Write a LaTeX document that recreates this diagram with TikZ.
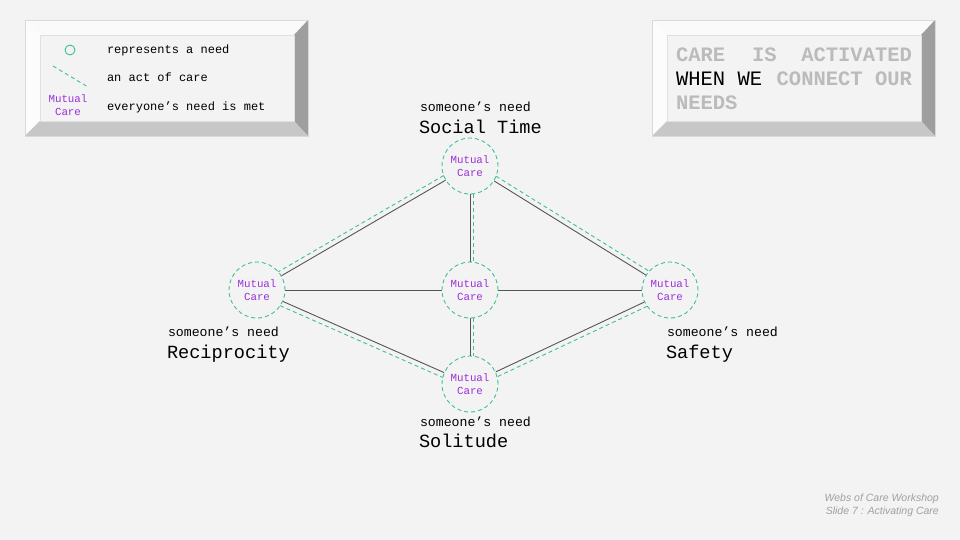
\documentclass[tikz,border=0pt]{standalone}
\usepackage{fontspec}
\setmainfont{Liberation Mono}
\newfontfamily\footfont{Liberation Sans}
\usetikzlibrary{calc}
\definecolor{bg}{HTML}{F3F3F3}
\definecolor{teal2}{HTML}{3DBF9E}
\definecolor{purp}{HTML}{9B30D9}
\definecolor{edge}{HTML}{555555}
\definecolor{graytxt}{HTML}{BBBBBB}
\definecolor{foot}{HTML}{A0A0A0}
\newcommand\careline[5]{\draw[actline, shorten <=#5, shorten >=#5] ($(#1)!#4!#3:(#2)$) -- ($(#2)!#4!{#3+180}:(#1)$);}
\tikzset{
  need/.style={circle, draw=teal2, dash pattern=on 4pt off 3pt, line width=0.9pt, minimum size=56pt, inner sep=0pt, align=center, text=purp, font=\fontsize{10.8}{13}\selectfont},
  link/.style={draw=edge, line width=0.9pt},
  actline/.style={draw=teal2, line width=0.9pt, dash pattern=on 4pt off 3pt},
  txt/.style={anchor=base west, inner sep=0pt, outer sep=0pt},
  small/.style={txt, font=\fontsize{13.2}{15}\selectfont},
  big/.style={txt, font=\fontsize{18.6}{21}\selectfont},
  leg/.style={txt, font=\fontsize{12}{14}\selectfont},
  head/.style={txt, font=\fontsize{20.5}{24}\selectfont\bfseries, text=graytxt},
  bevtop/.style={fill=white!60!bg},
  bevleft/.style={fill=white!75!bg},
  bevright/.style={fill=black!38},
  bevbot/.style={fill=black!22},
}
\begin{document}
\begin{tikzpicture}[x=1pt,y=-1pt]
\useasboundingbox[fill=bg] (0,0) rectangle (960,540);

% ---- legend bevel box
\fill[bevtop] (25,20) -- (308,20) -- (294,35) -- (40,35) -- cycle;
\fill[bevleft] (25,20) -- (40,35) -- (40,121) -- (25,136) -- cycle;
\fill[bevright] (308,20) -- (308,136) -- (294,121) -- (294,35) -- cycle;
\fill[bevbot] (25,136) -- (40,121) -- (294,121) -- (308,136) -- cycle;
\draw[black!15, line width=0.6pt] (25,20) rectangle (308,136);
\draw[fill=bg, draw=black!12, line width=0.6pt] (40,35) rectangle (294,121);

% ---- title bevel box
\fill[bevtop] (652,20) -- (935,20) -- (921,35) -- (667,35) -- cycle;
\fill[bevleft] (652,20) -- (667,35) -- (667,121) -- (652,136) -- cycle;
\fill[bevright] (935,20) -- (935,136) -- (921,121) -- (921,35) -- cycle;
\fill[bevbot] (652,136) -- (667,121) -- (921,121) -- (935,136) -- cycle;
\draw[black!15, line width=0.6pt] (652,20) rectangle (935,136);
\draw[fill=bg, draw=black!12, line width=0.6pt] (667,35) rectangle (921,121);

% ---- legend content
\node[circle, draw=teal2, line width=0.9pt, minimum size=10pt, inner sep=0pt] (legneed) at (70,50) {};
\coordinate (legA) at (53,66);
\coordinate (legB) at (88,87);
\draw[actline] (legA) -- (legB);
\node[align=center, text=purp, font=\fontsize{10.8}{13}\selectfont, inner sep=0pt] (legmc) at (68,105) {Mutual\\Care};
\node[leg] (leg1) at (107,54) {represents a need};
\node[leg] (leg2) at (107,82) {an act of care};
\node[leg] (leg3) at (107,111) {everyone’s need is met};

% ---- title text
\node[head] (h1) at (676,62) {CARE};
\node[head] (h2) at (752,62) {IS};
\node[head, anchor=base east] (h3) at (912,62) {ACTIVATED};
\node[txt, font=\fontsize{20.5}{24}\selectfont] (h4) at (676,86) {WHEN WE};
\node[head, anchor=base east] (h5) at (912,86) {CONNECT OUR};
\node[head] (h6) at (676,110) {NEEDS};

% ---- needs
\node[need] (top) at (470,166) {Mutual\\Care};
\node[need] (left) at (257,290) {Mutual\\Care};
\node[need] (mid) at (470,290) {Mutual\\Care};
\node[need] (right) at (670,290) {Mutual\\Care};
\node[need] (bot) at (470,384) {Mutual\\Care};

% ---- links
\draw[link] (top) -- (left);
\draw[link] (top) -- (right);
\draw[link] (top) -- (mid);
\draw[link] (mid) -- (left);
\draw[link] (mid) -- (right);
\draw[link] (mid) -- (bot);
\draw[link] (left) -- (bot);
\draw[link] (right) -- (bot);

% ---- acts of care
\careline{top}{left}{-90}{5pt}{27.5pt}
\careline{top}{right}{90}{5pt}{27.5pt}
\careline{left}{bot}{-90}{5pt}{27.5pt}
\careline{right}{bot}{90}{5pt}{27.5pt}
\careline{top}{mid}{90}{3pt}{27.8pt}
\careline{mid}{bot}{90}{3pt}{27.8pt}

% ---- labels
\node[small] (l1a) at (420,112) {someone’s need};
\node[big] (l1b) at (419,134) {Social Time};
\node[small] (l2a) at (168,336) {someone’s need};
\node[big] (l2b) at (167,358) {Reciprocity};
\node[small] (l3a) at (667,336) {someone’s need};
\node[big] (l3b) at (666,358) {Safety};
\node[small] (l4a) at (420,426) {someone’s need};
\node[big] (l4b) at (419,447) {Solitude};

% ---- footer
\node[anchor=base east, inner sep=0pt, text=foot, font=\footfont\itshape\fontsize{10.5}{12}\selectfont] (f1) at (939,501) {Webs of Care Workshop};
\node[anchor=base east, inner sep=0pt, text=foot, font=\footfont\itshape\fontsize{10.5}{12}\selectfont] (f2) at (939,514) {Slide 7 : Activating Care};
\end{tikzpicture}
\end{document}
